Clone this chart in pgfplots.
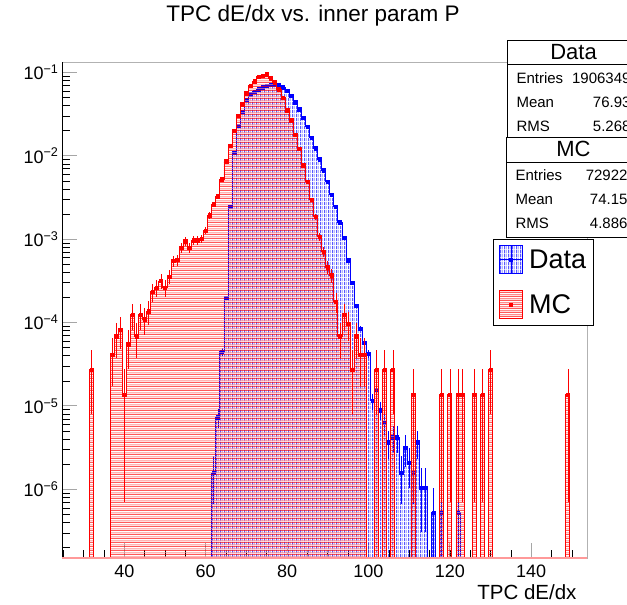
\documentclass[border=0pt]{standalone}
\usepackage{fontspec}
\setmainfont{Liberation Sans}
\usepackage{pgfplots}
\usepackage{pgfplotstable}
\pgfplotsset{compat=1.18}
\usetikzlibrary{patterns.meta}

% hatching like ROOT fill styles
\tikzdeclarepattern{
  name=mchatch, type=colored,
  bottom left={(0pt,0pt)}, top right={(4pt,3.6pt)}, tile size={(4pt,3.6pt)},
  code={
    \draw[red, line width=0.8pt] (0pt,0.9pt) -- (4pt,0.9pt);
    \draw[red!45, line width=0.6pt] (0pt,2.7pt) -- (4pt,2.7pt);
  }
}
\tikzdeclarepattern{
  name=datahatch, type=colored,
  bottom left={(0pt,0pt)}, top right={(4pt,4pt)}, tile size={(4pt,4pt)},
  code={
    \draw[blue, line width=0.9pt] (1pt,0pt) -- (1pt,4pt);
    \draw[blue!45, line width=0.6pt] (3pt,0pt) -- (3pt,4pt);
  }
}

% MC histogram, normalised (1e-9 = empty bin)
\pgfplotstableread{
x y ep em
31 1e-9 0 0
32 2.74e-5 1.94e-5 1.94e-5
33 1e-9 0 0
34 1e-9 0 0
35 1e-9 0 0
36 1e-9 0 0
37 4.11e-5 2.37e-5 2.37e-5
38 6.86e-5 3.07e-5 3.07e-5
39 8.23e-5 3.36e-5 3.36e-5
40 1.37e-5 1.37e-5 1.30e-5
41 5.48e-5 2.74e-5 2.74e-5
42 1.234e-4 4.11e-5 4.11e-5
43 6.86e-5 3.07e-5 3.07e-5
44 1.234e-4 4.11e-5 4.11e-5
45 1.097e-4 3.88e-5 3.88e-5
46 1.371e-4 4.34e-5 4.34e-5
47 2.33e-4 5.65e-5 5.65e-5
48 2.60e-4 5.98e-5 5.98e-5
49 3.15e-4 6.58e-5 6.58e-5
50 2.60e-4 5.98e-5 5.98e-5
51 3.56e-4 6.99e-5 6.99e-5
52 5.48e-4 8.67e-5 8.67e-5
53 5.62e-4 8.78e-5 8.78e-5
54 7.95e-4 1.04e-4 1.04e-4
55 9.46e-4 1.14e-4 1.14e-4
56 7.95e-4 1.04e-4 1.04e-4
57 9.73e-4 1.16e-4 1.16e-4
58 9.73e-4 1.16e-4 1.16e-4
59 1.015e-3 1.18e-4 1.18e-4
60 1.27e-3 1.32e-4 1.32e-4
61 1.93e-3 1.63e-4 1.63e-4
62 2.63e-3 1.90e-4 1.90e-4
63 3.26e-3 2.10e-4 2.10e-4
64 5.25e-3 2.70e-4 2.70e-4
65 8.60e-3 3.40e-4 3.40e-4
66 0.0131 0 0
67 0.0198 0 0
68 0.0300 0 0
69 0.0413 0 0
70 0.0560 0 0
71 0.0690 0 0
72 0.0787 0 0
73 0.0886 0 0
74 0.0910 0 0
75 0.0946 0 0
76 0.0848 0 0
77 0.0759 0 0
78 0.0630 0 0
79 0.0500 0 0
80 0.0353 0 0
81 0.0268 0 0
82 0.0179 0 0
83 0.0121 0 0
84 0.0077 0 0
85 0.0049 0 0
86 0.00295 2.0e-4 2.0e-4
87 0.00186 1.6e-4 1.6e-4
88 0.00107 1.21e-4 1.21e-4
89 7.1e-4 9.9e-5 9.9e-5
90 4.6e-4 8.0e-5 8.0e-5
91 3.7e-4 7.12e-5 7.12e-5
92 1.78e-4 4.94e-5 4.94e-5
93 6.86e-5 3.07e-5 3.07e-5
94 1.234e-4 4.11e-5 4.11e-5
95 9.6e-5 3.63e-5 3.63e-5
96 2.74e-5 1.94e-5 1.94e-5
97 6.86e-5 3.07e-5 3.07e-5
98 4.11e-5 2.37e-5 2.37e-5
99 4.11e-5 2.37e-5 2.37e-5
100 1e-9 0 0
101 1e-9 0 0
102 2.74e-5 1.94e-5 1.94e-5
103 1e-9 0 0
104 2.74e-5 1.94e-5 1.94e-5
105 1e-9 0 0
106 2.74e-5 1.94e-5 1.94e-5
107 1e-9 0 0
110 1e-9 0 0
111 1.37e-5 1.37e-5 1.30e-5
112 1e-9 0 0
117 1e-9 0 0
118 1.37e-5 1.37e-5 1.30e-5
119 1e-9 0 0
120 1.37e-5 1.37e-5 1.30e-5
121 1e-9 0 0
122 1.37e-5 1.37e-5 1.30e-5
123 1.37e-5 1.37e-5 1.30e-5
124 1e-9 0 0
125 1e-9 0 0
126 1.37e-5 1.37e-5 1.30e-5
127 1e-9 0 0
128 1.37e-5 1.37e-5 1.30e-5
129 1e-9 0 0
130 2.74e-5 1.94e-5 1.94e-5
131 1e-9 0 0
148 1e-9 0 0
149 1.37e-5 1.37e-5 1.30e-5
150 1e-9 0 0
}\mctable

% Data histogram, normalised
\pgfplotstableread{
x y ep em
61 1e-9 0 0
62 1.57e-6 9.1e-7 9.1e-7
63 7.34e-6 1.96e-6 1.96e-6
64 4.5e-5 4.9e-6 4.9e-6
65 2.0e-4 1.0e-5 1.0e-5
66 2.46e-3 0 0
67 0.0109 0 0
68 0.0229 0 0
69 0.0340 0 0
70 0.0466 0 0
71 0.0544 0 0
72 0.0585 0 0
73 0.0625 0 0
74 0.0660 0 0
75 0.0690 0 0
76 0.0710 0 0
77 0.0720 0 0
78 0.0705 0 0
79 0.0667 0 0
80 0.0600 0 0
81 0.0525 0 0
82 0.0440 0 0
83 0.0360 0 0
84 0.0286 0 0
85 0.0223 0 0
86 0.0164 0 0
87 0.0123 0 0
88 0.0091 0 0
89 0.0067 0 0
90 0.0049 0 0
91 0.0034 0 0
92 0.00245 0 0
93 0.00159 0 0
94 0.00104 0 0
95 5.6e-4 0 0
96 3.0e-4 0 0
97 1.58e-4 9.1e-6 9.1e-6
98 8.5e-5 6.7e-6 6.7e-6
99 5.7e-5 5.5e-6 5.5e-6
100 4.2e-5 4.7e-6 4.7e-6
101 1.15e-5 2.46e-6 2.46e-6
102 1.57e-5 2.87e-6 2.87e-6
103 8.9e-6 2.16e-6 2.16e-6
104 6.3e-6 1.82e-6 1.82e-6
105 3.67e-6 1.39e-6 1.39e-6
106 4.2e-6 1.48e-6 1.48e-6
107 4.2e-6 1.48e-6 1.48e-6
108 1.57e-6 9.1e-7 9.1e-7
109 3.15e-6 1.28e-6 1.28e-6
110 2.1e-6 1.05e-6 1.05e-6
111 1.57e-6 9.1e-7 9.1e-7
112 3.67e-6 1.39e-6 1.39e-6
113 1.05e-6 7.4e-7 7.4e-7
114 1.05e-6 7.4e-7 7.4e-7
115 1e-9 0 0
116 5.25e-7 5.25e-7 5.0e-7
117 1e-9 0 0
118 5.25e-7 5.25e-7 5.0e-7
119 1e-9 0 0
121 1e-9 0 0
122 5.25e-7 5.25e-7 5.0e-7
123 1e-9 0 0
}\datatable

\begin{document}
\begin{tikzpicture}
\path[use as bounding box] (0pt,0pt) rectangle (627pt,-605pt);
\clip (0pt,0pt) rectangle (627pt,-605pt);
\begin{axis}[
    at={(62pt,-558pt)}, anchor=south west,
    width=525pt, height=496pt, scale only axis,
    xmin=24.7, xmax=153.7,
    ymode=log, ymin=1.5e-7, ymax=0.133,
    log origin=infty,
    clip marker paths=true,
    axis line style={gray!60, line width=1pt},
    tick pos=left, tick align=inside,
    major tick length=15pt, minor tick length=8pt,
    major tick style={gray!70, line width=1pt},
    minor tick style={black, line width=0.6pt},
    xtick={40,60,80,100,120,140},
    xticklabels={40,60,80,100,120,140},
    minor xtick={25,30,...,150},
    ytick={1e-6,1e-5,1e-4,1e-3,1e-2,1e-1},
    yticklabels={10\textsuperscript{−6},10\textsuperscript{−5},10\textsuperscript{−4},10\textsuperscript{−3},10\textsuperscript{−2},10\textsuperscript{−1}},
    minor ytick={2e-7,3e-7,4e-7,5e-7,6e-7,7e-7,8e-7,9e-7,
                 2e-6,3e-6,4e-6,5e-6,6e-6,7e-6,8e-6,9e-6,
                 2e-5,3e-5,4e-5,5e-5,6e-5,7e-5,8e-5,9e-5,
                 2e-4,3e-4,4e-4,5e-4,6e-4,7e-4,8e-4,9e-4,
                 2e-3,3e-3,4e-3,5e-3,6e-3,7e-3,8e-3,9e-3,
                 2e-2,3e-2,4e-2,5e-2,6e-2,7e-2,8e-2,9e-2},
    ticklabel style={font=\fontsize{18}{18}\selectfont},
    xticklabel style={yshift=-3pt},
    legend style={at={(0.821,0.643)}, anchor=north west,
        draw=black, line width=0.8pt, fill=white,
        font=\fontsize{27}{27}\selectfont,
        inner xsep=6pt, inner ysep=6pt, row sep=16pt,
        nodes={inner sep=1pt},
        /tikz/every odd column/.append style={column sep=5pt}},
    legend cell align=left,
]
% ---- Data ----
\addplot[ybar, bar width=1, bar shift=0pt, draw=none, mark=none, forget plot,
    pattern=datahatch]
    table[x=x,y=y] \datatable;
\addplot[const plot mark mid, blue, line width=0.9pt, mark=none, forget plot]
    table[x=x,y=y] \datatable;
\addplot[only marks, mark=square*, mark size=1.7pt, blue,
    error bars/.cd, y dir=both, y explicit, error mark=none,
    error bar style={blue, line width=0.7pt},
    /pgfplots/legend image code/.code={
        \fill[pattern=datahatch] (0pt,-14pt) rectangle (23pt,14pt);
        \draw[blue, line width=0.8pt] (0pt,0pt) -- (23pt,0pt);
        \draw[blue, line width=0.8pt] (11.5pt,-14pt) -- (11.5pt,14pt);
        \fill[blue] (10pt,-1.6pt) rectangle (13pt,1.6pt);}]
    table[x=x,y=y,y error plus=ep,y error minus=em] \datatable;
\addlegendentry{Data\hspace{60pt}}
% ---- MC ----
\addplot[ybar, bar width=1, bar shift=0pt, draw=none, mark=none, forget plot,
    pattern=mchatch]
    table[x=x,y=y] \mctable;
\addplot[const plot mark mid, red, line width=0.9pt, mark=none, forget plot]
    table[x=x,y=y] \mctable;
\addplot[only marks, mark=square*, mark size=1.7pt, red,
    error bars/.cd, y dir=both, y explicit, error mark=none,
    error bar style={red, line width=0.7pt},
    /pgfplots/legend image code/.code={
        \fill[pattern=mchatch] (0pt,-14pt) rectangle (23pt,14pt);
        \fill[red] (10pt,-1.6pt) rectangle (13pt,1.6pt);}]
    table[x=x,y=y,y error plus=ep,y error minus=em] \mctable;
\addlegendentry{MC}
% frame lines
\draw[black, line width=0.8pt] (rel axis cs:0,0) -- (rel axis cs:0,1);
\draw[red!40, line width=1.5pt] (rel axis cs:0,0) -- (rel axis cs:1,0);
\end{axis}
% title and axis label
\node[font=\fontsize{22.5}{22.5}\selectfont] at (313pt,-16pt) {TPC dE/dx vs. inner param P};
\node[anchor=east, font=\fontsize{20.5}{20.5}\selectfont] at (580pt,-592pt) {TPC dE/dx};
% stats boxes
\draw[fill=white, line width=0.8pt] (507pt,-40pt) rectangle (660pt,-137pt);
\draw[line width=0.8pt] (507pt,-64pt) -- (660pt,-64pt);
\node[font=\fontsize{22}{22}\selectfont] at (573.5pt,-52pt) {Data};
\begin{scope}[every node/.style={font=\fontsize{15}{15}\selectfont}]
\node[anchor=west] at (513pt,-78pt) {Entries};
\node[anchor=west] at (513pt,-102pt) {Mean};
\node[anchor=west] at (513pt,-126pt) {RMS};
\node[anchor=east] at (634pt,-78pt) {1906349};
\node[anchor=east] at (634pt,-102pt) {76.93};
\node[anchor=east] at (634pt,-126pt) {5.268};
\end{scope}
\draw[fill=white, line width=0.8pt] (506pt,-137pt) rectangle (660pt,-237pt);
\draw[line width=0.8pt] (506pt,-162pt) -- (660pt,-162pt);
\node[font=\fontsize{22}{22}\selectfont] at (573.5pt,-149pt) {MC};
\begin{scope}[every node/.style={font=\fontsize{15}{15}\selectfont}]
\node[anchor=west] at (512pt,-175pt) {Entries};
\node[anchor=west] at (512pt,-199pt) {Mean};
\node[anchor=west] at (512pt,-223pt) {RMS};
\node[anchor=east] at (631pt,-175pt) {72922};
\node[anchor=east] at (631pt,-199pt) {74.15};
\node[anchor=east] at (631pt,-223pt) {4.886};
\end{scope}
\end{tikzpicture}
\end{document}
